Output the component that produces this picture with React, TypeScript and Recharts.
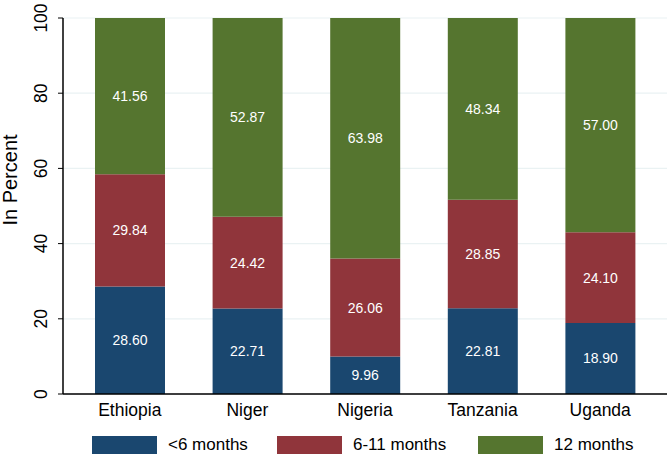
import React from 'react';
import { BarChart, Bar, XAxis, YAxis, CartesianGrid, LabelList } from 'recharts';

const countries = ['Ethiopia', 'Niger', 'Nigeria', 'Tanzania', 'Uganda'];
const under6 = [28.6, 22.71, 9.96, 22.81, 18.9];
const m6to11 = [29.84, 24.42, 26.06, 28.85, 24.1];
const m12 = [41.56, 52.87, 63.98, 48.34, 57.0];
const yTicks = [0, 20, 40, 60, 80, 100];

const series = [
    { key: 'under6', name: '<6 months', color: '#1a476f' },
    { key: 'm6to11', name: '6-11 months', color: '#90353b' },
    { key: 'm12', name: '12 months', color: '#55752f' },
];

const data = countries.map((c, i) => ({
    country: c,
    under6: under6[i],
    m6to11: m6to11[i],
    m12: m12[i],
}));

const FONT = '"Liberation Sans", Arial, sans-serif';

const YTick = (props: any) => {
    const { y, payload } = props;
    return (
        <text x={47} y={y} transform={`rotate(-90, 47, ${y})`} textAnchor="middle"
            fontSize={17.5} fill="#000" fontFamily={FONT}>
            {payload.value}
        </text>
    );
};

const XTick = (props: any) => {
    const { x, y, payload } = props;
    return (
        <text x={x} y={y + 14} textAnchor="middle" fontSize={17.5} fill="#000" fontFamily={FONT}>
            {payload.value}
        </text>
    );
};

const legendPos = [92, 277, 478];

const App: React.FC = () => {
    return (
        <div style={{ width: 667, height: 461, position: 'relative', background: '#fff', fontFamily: FONT }}>
            <style>{'body{margin:0}'}</style>
            <BarChart width={667} height={420} data={data}
                margin={{ top: 18, right: 0, bottom: 0, left: 0 }} barSize={70}>
                <CartesianGrid vertical={false} stroke="#eaf2f3" strokeWidth={1.2} />
                <XAxis dataKey="country" height={26} padding={{ left: 8, right: 8 }}
                    axisLine={{ stroke: '#000', strokeWidth: 1.5 }} tickLine={false} tick={<XTick />} />
                <YAxis width={63} domain={[0, 100]} ticks={yTicks} tickSize={5}
                    axisLine={{ stroke: '#000', strokeWidth: 1.5 }} tickLine={{ stroke: '#000' }} tick={<YTick />} />
                {series.map((s) => (
                    <Bar key={s.key} dataKey={s.key} stackId="a" fill={s.color} isAnimationActive={false}>
                        <LabelList dataKey={s.key} position="center" fill="#fff" fontSize={14}
                            fontFamily={FONT} formatter={(v: any) => Number(v).toFixed(2)} />
                    </Bar>
                ))}
                <text x={17} y={180} transform="rotate(-90, 17, 180)" textAnchor="middle"
                    fontSize={20} fill="#000" fontFamily={FONT}>In Percent</text>
            </BarChart>
            {series.map((s, i) => (
                <div key={s.key} style={{ position: 'absolute', left: legendPos[i], top: 435, display: 'flex', alignItems: 'center' }}>
                    <div style={{ width: 65, height: 18, background: s.color }} />
                    <span style={{ marginLeft: 11, fontSize: 17, color: '#000' }}>{s.name}</span>
                </div>
            ))}
        </div>
    );
};

export default App;
